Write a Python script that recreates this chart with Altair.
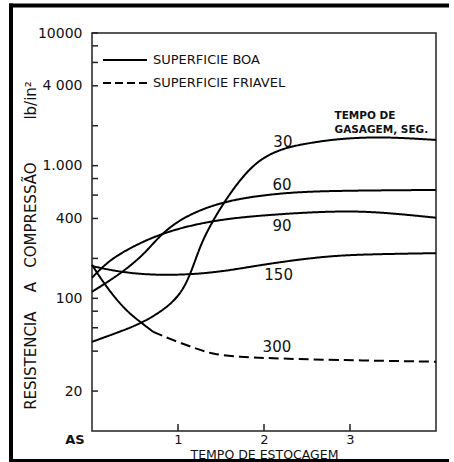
import altair as alt
import pandas as pd

# ---- data ----
x30 = [0, 0.291, 0.581, 0.849, 1.023, 1.14, 1.256, 1.372, 1.488, 1.64, 1.837, 2.035, 2.279, 2.535, 2.767, 3.035, 3.43, 4.0]
y30 = [47, 55, 65, 83, 106, 148, 248, 351, 472, 667, 961, 1204, 1383, 1483, 1563, 1618, 1647, 1563]

x60 = [0, 0.345, 0.62, 0.81, 1.10, 1.57, 2.22, 2.80, 4.0]
y60 = [112, 155, 219, 310, 425, 552, 626, 648, 656]

x90 = [0, 0.15, 0.33, 0.79, 1.41, 2.03, 2.65, 3.23, 4.0]
y90 = [143, 180, 220, 311, 390, 425, 450, 456, 405]

x150 = [0, 0.38, 0.88, 1.43, 1.84, 2.22, 2.76, 3.23, 4.0]
y150 = [175, 155, 148, 156, 173, 189, 209, 215, 219]

x300_boa = [0, 0.15, 0.38, 0.58, 0.71]
y300_boa = [179, 126, 82, 65, 56]
x300_friavel = [0.71, 0.93, 1.2, 1.405, 1.72, 2.03, 2.8, 4.0]
y300_friavel = [56, 48.6, 42, 37.8, 36.2, 35.4, 34.3, 33.3]

curve_labels = ["30", "60", "90", "150", "300"]
curve_label_x = [2.22, 2.21, 2.21, 2.17, 2.15]
curve_label_y = [1510, 716, 351, 150, 43]

y_tick_values = [20, 40, 60, 80, 100, 200, 400, 600, 800, 1000, 2000, 4000, 6000, 8000, 10000]
y_label_values = [10000, 4000, 1000, 400, 100, 20]
y_label_texts = ["10000", "4 000", "1.000", "400", "100", "20"]
x_tick_values = [1, 2, 3]

legend_labels = ["SUPERFICIE BOA", "SUPERFICIE FRIAVEL"]

NB = "\u00a0"
y_title = "RESISTENCIA" + NB * 4 + "A" + NB * 3 + "COMPRESSÃO" + NB * 9 + "lb/in²"
x_title = "TEMPO DE ESTOCAGEM"
note_text = "TEMPO DE\nGASAGEM, SEG."

# ---- build table ----
rows = []
for seg, sup, xs, ys in [
    ("30", "BOA", x30, y30),
    ("60", "BOA", x60, y60),
    ("90", "BOA", x90, y90),
    ("150", "BOA", x150, y150),
    ("300a", "BOA", x300_boa, y300_boa),
    ("300b", "FRIAVEL", x300_friavel, y300_friavel),
]:
    for xv, yv in zip(xs, ys):
        rows.append({"seg": seg, "sup": sup, "t": xv, "r": yv})
df = pd.DataFrame(rows)

label_expr = "''"
for v, t in zip(y_label_values, y_label_texts):
    label_expr = f"datum.value == {v} ? '{t}' : ({label_expr})"

FONT = "DejaVu Sans"
W, H = 344, 398

xscale = alt.Scale(domain=[0, 4], nice=False, zero=False)
yscale = alt.Scale(type="log", domain=[10, 10000], nice=False)

x_axis = alt.Axis(
    values=x_tick_values, ticks=False, tickSize=0, domain=False, grid=False,
    labelPadding=2, labelFontSize=13, labelFont=FONT, labelColor="#111",
    title=x_title, titleFont=FONT, titleFontSize=12.5, titleFontWeight="normal",
    titleColor="#111", titleBaseline="alphabetic", titleY=27)
y_axis = alt.Axis(
    values=y_label_values, labelExpr=label_expr, ticks=False, tickSize=0,
    domain=False, grid=False, labelPadding=10, labelFontSize=14, labelFont=FONT,
    labelColor="#111", title=y_title, titleFont=FONT, titleFontSize=15,
    titleFontWeight="normal", titleColor="#111", titleAngle=270,
    titleBaseline="middle", titleX=-62, titleY=212)

def X(f="t:Q"):
    return alt.X(f, scale=xscale, axis=x_axis)

def Y(f="r:Q"):
    return alt.Y(f, scale=yscale, axis=y_axis)

lines = alt.Chart(df).mark_line(color="black", strokeWidth=2, interpolate="basis").encode(
    x=X(), y=Y(),
    detail="seg:N",
    strokeDash=alt.StrokeDash("sup:N", scale=alt.Scale(domain=["BOA", "FRIAVEL"], range=[[1, 0], [10, 5]]), legend=None),
)

ytick_df = pd.DataFrame({"r": y_tick_values})
yticks = alt.Chart(ytick_df).mark_rule(color="#222", strokeWidth=1.5).encode(
    y=Y(), x=alt.value(0), x2=alt.value(6))

xtick_df = pd.DataFrame({"t": x_tick_values})
xticks = alt.Chart(xtick_df).mark_rule(color="#222", strokeWidth=1.5).encode(
    x=X(), y=alt.value(H), y2=alt.value(H - 7))

lab_df = pd.DataFrame({"txt": curve_labels, "t": curve_label_x, "r": curve_label_y})
labels = alt.Chart(lab_df).mark_text(font=FONT, fontSize=15, color="#111", align="center", baseline="middle").encode(
    x=X(), y=Y(), text="txt:N")

note = alt.Chart(pd.DataFrame({"txt": [note_text], "t": [2.82], "r": [2349]})).mark_text(
    font=FONT, fontSize=10.5, fontWeight="bold", color="#111", align="left", baseline="middle",
    lineBreak="\n", lineHeight=13.5).encode(x=X(), y=Y(), text="txt:N")

as_label = alt.Chart(pd.DataFrame({"txt": ["AS"], "t": [0], "r": [10]})).mark_text(
    font=FONT, fontSize=13, fontWeight="bold", color="#111", align="center", baseline="middle",
    dx=-17, dy=9).encode(x=X(), y=Y(), text="txt:N")

one = pd.DataFrame({"k": [0]})
leg_solid = alt.Chart(one).mark_rule(color="black", strokeWidth=2).encode(
    x=alt.value(11), x2=alt.value(55), y=alt.value(27))
leg_dash = alt.Chart(one).mark_rule(color="black", strokeWidth=2, strokeDash=[8, 4]).encode(
    x=alt.value(11), x2=alt.value(55), y=alt.value(50))
leg_t1 = alt.Chart(one).mark_text(font=FONT, fontSize=13, color="#111", align="left", baseline="middle").encode(
    x=alt.value(61), y=alt.value(27), text=alt.value(legend_labels[0]))
leg_t2 = alt.Chart(one).mark_text(font=FONT, fontSize=13, color="#111", align="left", baseline="middle").encode(
    x=alt.value(61), y=alt.value(50), text=alt.value(legend_labels[1]))

# outer black frame of the scanned page (left, top, bottom edges)
b_left = alt.Chart(one).mark_rule(color="black", strokeWidth=4).encode(
    x=alt.value(-81), y=alt.value(-29.5), y2=alt.value(429))
b_top = alt.Chart(one).mark_rule(color="black", strokeWidth=4).encode(
    x=alt.value(-83), x2=alt.value(357), y=alt.value(-27.5))
b_bot = alt.Chart(one).mark_rule(color="black", strokeWidth=3).encode(
    x=alt.value(-83), x2=alt.value(357), y=alt.value(427.5))

chart = alt.layer(lines, yticks, xticks, labels, note, as_label, leg_solid, leg_dash, leg_t1, leg_t2,
                  b_left, b_top, b_bot).properties(
    width=W, height=H,
    autosize=alt.AutoSizeParams(type="none"),
    padding={"left": 92, "top": 33, "right": 18, "bottom": 31},
    background="white",
).configure_view(stroke="#222", strokeWidth=1.5)

chart.save("out.html", embed_options={"renderer": "svg", "actions": False})
